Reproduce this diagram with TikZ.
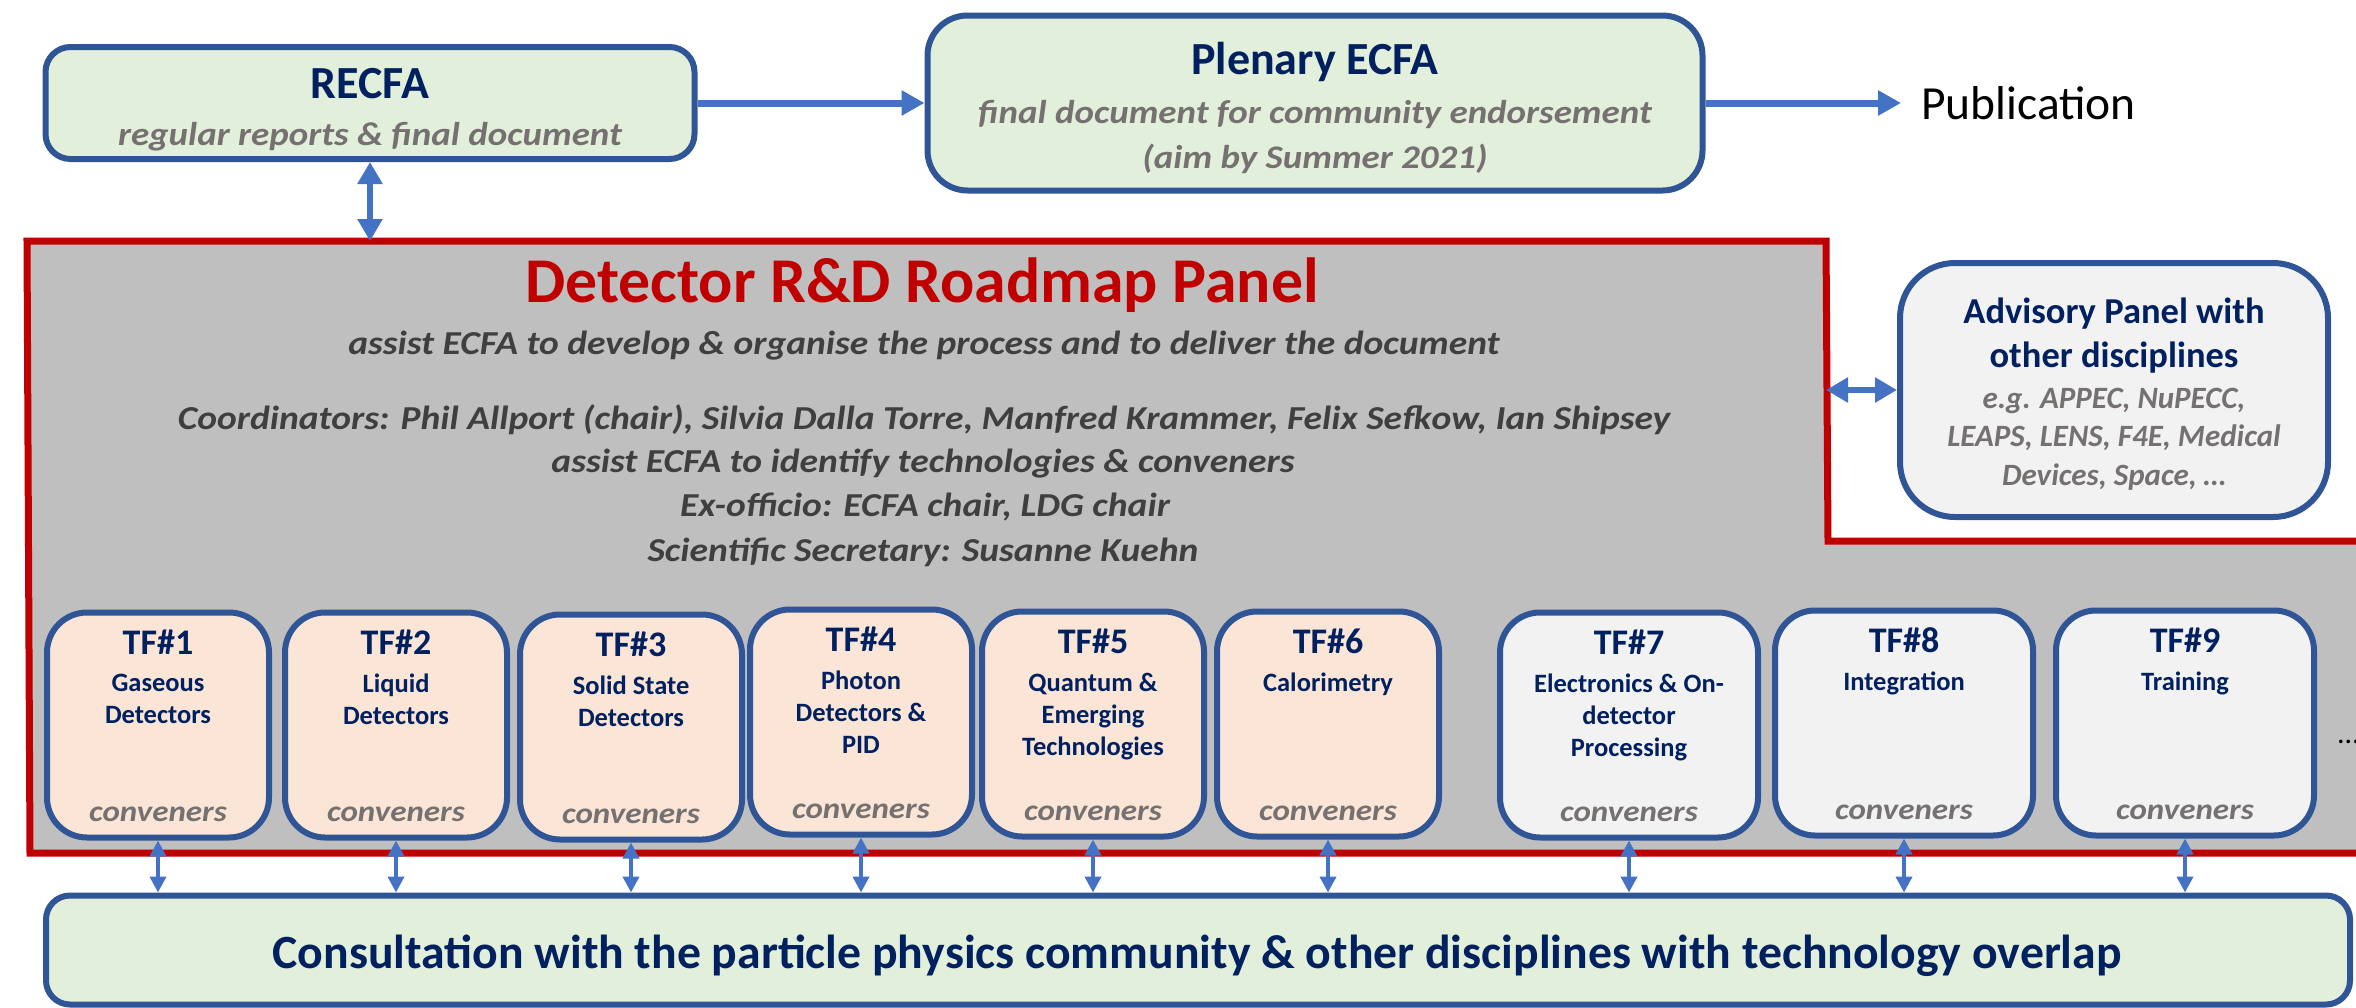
\documentclass[tikz,border=0pt]{standalone}
\usepackage{fontspec}
\setmainfont{Carlito}
\newfontfamily\widefont{Carlito}[FakeStretch=1.12]
\usetikzlibrary{arrows.meta,positioning}

\definecolor{ecfablue}{HTML}{2F5597}
\definecolor{ecfanavy}{HTML}{002060}
\definecolor{ecfagreen}{HTML}{E2EFDA}
\definecolor{tfpeach}{HTML}{FBE5D6}
\definecolor{tfgrey}{HTML}{F2F2F2}
\definecolor{panelgrey}{HTML}{BFBFBF}
\definecolor{panelred}{HTML}{C00000}
\definecolor{arrowblue}{HTML}{4472C4}
\definecolor{softgrey}{HTML}{767171}
\definecolor{darkgrey}{HTML}{3F3F3F}

\tikzset{
  greenbox/.style={draw=ecfablue, line width=6pt, fill=ecfagreen, rounded corners=25pt, inner sep=0pt},
  tfbox/.style={draw=ecfablue, line width=6pt, rounded corners=40pt, minimum height=225pt, inner sep=0pt},
  boxtitle/.style={font=\fontsize{46}{50}\selectfont\bfseries, text=ecfanavy, inner sep=0pt, anchor=base},
  boxsub/.style={font=\widefont\fontsize{33}{40}\selectfont\bfseries\itshape, text=softgrey, inner sep=0pt, anchor=base},
  paneltext/.style={font=\widefont\fontsize{33.5}{40}\selectfont\bfseries\itshape, text=darkgrey, inner sep=0pt, anchor=base},
  advtitle/.style={font=\fontsize{36.5}{40}\selectfont\bfseries, text=ecfanavy, inner sep=0pt, anchor=base},
  advsub/.style={font=\fontsize{31}{38}\selectfont\bfseries\itshape, text=softgrey, inner sep=0pt, anchor=base},
  tftitle/.style={font=\fontsize{36}{40}\selectfont\bfseries, text=ecfanavy, inner sep=0pt},
  tftext/.style={font=\fontsize{26.5}{32}\selectfont\bfseries, text=ecfanavy, inner sep=0pt, align=center},
  conv/.style={font=\widefont\fontsize{29.5}{36}\selectfont\bfseries\itshape, text=softgrey, inner sep=0pt},
  bigarrow/.style={arrowblue, line width=7pt, -{Triangle[length=23pt,width=24pt]}},
  dblarrow/.style={arrowblue, line width=6pt, {Triangle[length=22pt,width=24pt]}-{Triangle[length=22pt,width=24pt]}},
  tfarrow/.style={arrowblue, line width=4pt, {Triangle[length=16pt,width=16pt]}-{Triangle[length=16pt,width=16pt]}}
}

\begin{document}
\begin{tikzpicture}[x=1pt, y=-1pt]
    \useasboundingbox (0,0) rectangle (2356,1007);

    % roadmap panel
    \coordinate (paneltl) at (27,241);
    \coordinate (panelnotch) at (1826,241);
    \draw[panelred, line width=7pt, fill=panelgrey] (paneltl) -- (panelnotch) -- (1828,541) -- (2380,541) -- (2380,853) -- (30,853) -- cycle;

    \node[anchor=base, inner sep=0pt, font=\fontsize{63.8}{70}\selectfont\bfseries, text=panelred] (paneltitle) at (922,302) {Detector R\&D Roadmap Panel};
    \node[paneltext] (panelaim) at (924,354) {assist ECFA to develop \& organise the process and to deliver the document};
    \node[paneltext] (coordinators) at (924,429) {Coordinators: Phil Allport (chair), Silvia Dalla Torre, Manfred Krammer, Felix Sefkow, Ian Shipsey};
    \node[paneltext] (identify) at (923,472) {assist ECFA to identify technologies \& conveners};
    \node[paneltext] (exofficio) at (925,516) {Ex-officio: ECFA chair, LDG chair};
    \node[paneltext] (secretary) at (923,561) {Scientific Secretary: Susanne Kuehn};

    % top row
    \node[greenbox, minimum width=649pt, minimum height=112pt] (recfa) at (370,103) {};
    \node[boxtitle] (recfatitle) at (370,98) {RECFA};
    \node[boxsub] (recfasub) at (370,145) {regular reports \& final document};

    \node[greenbox, rounded corners=40pt, minimum width=775pt, minimum height=175pt] (plenary) at (1315,103) {};
    \node[boxtitle] (plenarytitle) at (1315,74) {Plenary ECFA};
    \node[boxsub] (plenarysub) at (1315,123) {final document for community endorsement};
    \node[boxsub] (plenaryaim) at (1315,168) {(aim by Summer 2021)};

    \node[anchor=west, inner xsep=20pt, inner ysep=0pt, font=\fontsize{47.5}{50}\selectfont] (publication) at (1901,103) {Publication};

    \draw[bigarrow] (recfa.east) -- (plenary.west);
    \draw[bigarrow] (plenary.east) -- (publication.west);
    \draw[dblarrow] (recfa.south) -- (recfa.south |- paneltl);

    % advisory panel
    \node[tfbox, fill=tfgrey, rounded corners=55pt, minimum width=428pt, minimum height=254pt] (advisory) at (2114,390) {};
    \node[advtitle] (advtitle1) at (2114,323) {Advisory Panel with};
    \node[advtitle] (advtitle2) at (2114,367) {other disciplines};
    \node[advsub] (advsub1) at (2114,408) {e.g. APPEC, NuPECC,};
    \node[advsub] (advsub2) at (2114,446) {LEAPS, LENS, F4E, Medical};
    \node[advsub] (advsub3) at (2114,485) {Devices, Space, \dots};
    \draw[dblarrow] (advisory.west -| panelnotch) -- (advisory.west);

    % consultation
    \node[greenbox, rounded corners=24pt, minimum width=2304pt, minimum height=109pt] (consult) at (1198,950) {};
    \node[boxtitle, font=\fontsize{47.7}{50}\selectfont\bfseries] (consulttext) at (1197,968) {Consultation with the particle physics community \& other disciplines with technology overlap};

    % task forces
    \node[tfbox, fill=tfpeach, minimum width=222pt] (tf1) at (158,725) {};
    \node[tftitle, below=20pt of tf1.north] (tf1title) {TF\#1};
    \node[tftext, below=19pt of tf1title] (tf1text) {Gaseous\\Detectors};
    \node[conv, above=19pt of tf1.south] (tf1conv) {conveners};

    \node[tfbox, fill=tfpeach, minimum width=222pt] (tf2) at (396,725) {};
    \node[tftitle, below=20pt of tf2.north] (tf2title) {TF\#2};
    \node[tftext, below=19pt of tf2title] (tf2text) {Liquid\\Detectors};
    \node[conv, above=19pt of tf2.south] (tf2conv) {conveners};

    \node[tfbox, fill=tfpeach, minimum width=222pt] (tf3) at (631,727) {};
    \node[tftitle, below=20pt of tf3.north] (tf3title) {TF\#3};
    \node[tftext, below=19pt of tf3title] (tf3text) {Solid State\\Detectors};
    \node[conv, above=19pt of tf3.south] (tf3conv) {conveners};

    \node[tfbox, fill=tfpeach, minimum width=222pt] (tf4) at (861,722) {};
    \node[tftitle, below=20pt of tf4.north] (tf4title) {TF\#4};
    \node[tftext, below=19pt of tf4title] (tf4text) {Photon\\Detectors \&\\PID};
    \node[conv, above=19pt of tf4.south] (tf4conv) {conveners};

    \node[tfbox, fill=tfpeach, minimum width=222pt] (tf5) at (1093,724) {};
    \node[tftitle, below=20pt of tf5.north] (tf5title) {TF\#5};
    \node[tftext, below=19pt of tf5title] (tf5text) {Quantum \&\\Emerging\\Technologies};
    \node[conv, above=19pt of tf5.south] (tf5conv) {conveners};

    \node[tfbox, fill=tfpeach, minimum width=222pt] (tf6) at (1328,724) {};
    \node[tftitle, below=20pt of tf6.north] (tf6title) {TF\#6};
    \node[tftext, below=19pt of tf6title] (tf6text) {Calorimetry};
    \node[conv, above=19pt of tf6.south] (tf6conv) {conveners};

    \node[tfbox, fill=tfgrey, minimum width=258pt] (tf7) at (1629,725) {};
    \node[tftitle, below=20pt of tf7.north] (tf7title) {TF\#7};
    \node[tftext, below=19pt of tf7title] (tf7text) {Electronics \& On-\\detector\\Processing};
    \node[conv, above=19pt of tf7.south] (tf7conv) {conveners};

    \node[tfbox, fill=tfgrey, minimum width=258pt] (tf8) at (1904,723) {};
    \node[tftitle, below=20pt of tf8.north] (tf8title) {TF\#8};
    \node[tftext, below=19pt of tf8title] (tf8text) {Integration};
    \node[conv, above=19pt of tf8.south] (tf8conv) {conveners};

    \node[tfbox, fill=tfgrey, minimum width=258pt] (tf9) at (2185,723) {};
    \node[tftitle, below=20pt of tf9.north] (tf9title) {TF\#9};
    \node[tftext, below=19pt of tf9title] (tf9text) {Training};
    \node[conv, above=19pt of tf9.south] (tf9conv) {conveners};

    \node[anchor=west, inner sep=0pt, font=\fontsize{30}{36}\selectfont] (more) at (2338,742) {\dots};

    % links to the community
    \draw[tfarrow] (tf1.south) -- (tf1.south |- consult.north);
    \draw[tfarrow] (tf2.south) -- (tf2.south |- consult.north);
    \draw[tfarrow] (tf3.south) -- (tf3.south |- consult.north);
    \draw[tfarrow] (tf4.south) -- (tf4.south |- consult.north);
    \draw[tfarrow] (tf5.south) -- (tf5.south |- consult.north);
    \draw[tfarrow] (tf6.south) -- (tf6.south |- consult.north);
    \draw[tfarrow] (tf7.south) -- (tf7.south |- consult.north);
    \draw[tfarrow] (tf8.south) -- (tf8.south |- consult.north);
    \draw[tfarrow] (tf9.south) -- (tf9.south |- consult.north);

\end{tikzpicture}
\end{document}
